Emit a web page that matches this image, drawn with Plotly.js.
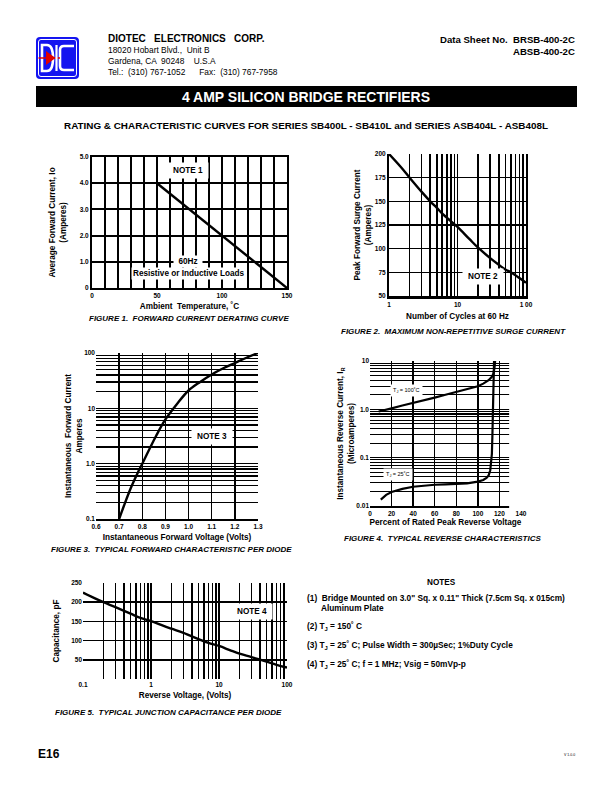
<!DOCTYPE html>
<html><head><meta charset="utf-8">
<script src="https://cdn.plot.ly/plotly-3.0.1.min.js"></script>
<style>html,body{margin:0;padding:0;background:#fff}#chart{width:612px;height:792px}</style>
</head><body><div id="chart"></div>
<script>
// ---------- DATA ----------
// Figure 1: forward current derating
const fig1Temp = [50, 150];
const fig1Current = [4.0, 0.0];
const fig1XTicks = [0, 50, 100, 150];
const fig1XTickText = ['0', '50', '100', '150'];
const fig1YTicks = [0, 1, 2, 3, 4, 5];
const fig1YTickText = ['0', '1.0', '2.0', '3.0', '4.0', '5.0'];

// Figure 2: surge current vs cycles
const fig2Cycles = [1, 1.5, 2, 3, 4, 5, 6, 8, 10, 15, 20, 30, 40, 50, 60, 80, 100];
const fig2Surge  = [200, 186, 175, 160, 150, 143, 137, 129, 123, 110, 101, 90, 83, 78, 75, 69, 64];
const fig2XTicks = [1, 10, 100];
const fig2XTickText = ['1', '10', '1 00'];
const fig2YTicks = [50, 75, 100, 125, 150, 175, 200];

// Figure 3: forward characteristic
const fig3Volts = [0.70, 0.72, 0.75, 0.78, 0.80, 0.83, 0.86, 0.90, 0.95, 1.00, 1.05, 1.10, 1.15, 1.20, 1.25, 1.30];
const fig3Amps  = [0.1, 0.17, 0.36, 0.68, 1.0, 1.8, 3.2, 6.3, 12, 21, 30, 41, 53, 66, 82, 100];
const fig3XTicks = [0.6, 0.7, 0.8, 0.9, 1.0, 1.1, 1.2, 1.3];
const fig3XTickText = ['0.6', '0.7', '0.8', '0.9', '1.0', '1.1', '1.2', '1.3'];
const fig3YTicks = [0.1, 1, 10, 100];
const fig3YTickText = ['0.1', '1.0', '10', '100'];

// Figure 4: reverse characteristics
const fig4Pct100 = [8, 15, 20, 30, 40, 50, 60, 70, 80, 90, 100, 105, 110, 113, 114.5, 115.5, 116];
const fig4Ir100  = [0.9, 0.97, 1.05, 1.2, 1.35, 1.55, 1.75, 2.0, 2.3, 2.6, 3.0, 3.4, 4.0, 4.7, 5.5, 7.5, 10];
const fig4Pct25  = [10, 15, 20, 30, 40, 50, 60, 70, 80, 90, 100, 105, 108, 110, 111.5, 112.5, 113, 113.5, 114, 114.5, 115];
const fig4Ir25   = [0.0136, 0.017, 0.0195, 0.0226, 0.025, 0.0265, 0.0275, 0.028, 0.0285, 0.0295, 0.032, 0.0345, 0.038, 0.043, 0.055, 0.08, 0.12, 0.3, 1, 4, 10];
const fig4XTicks = [0, 20, 40, 60, 80, 100, 120, 140];
const fig4YTicks = [0.01, 0.1, 1, 10];
const fig4YTickText = ['0.01', '0.1', '1.0', '10'];

// Figure 5: junction capacitance
const fig5Volts = [0.1, 0.15, 0.2, 0.3, 0.5, 0.7, 1, 1.5, 2, 3, 5, 7, 10, 15, 20, 30, 50, 70, 100];
const fig5Cap   = [225, 210, 200, 187, 170, 159, 151, 139, 131, 120, 104, 94, 86, 74, 66, 57, 45, 37, 30];
const fig5XTicks = [0.1, 1, 10, 100];
const fig5XTickText = ['0.1', '1', '10', '100'];
const fig5YTicks = [50, 100, 150, 200, 250];

// ---------- LAYOUT HELPERS ----------
const W = 612, H = 792;
const px = x => x / W;
const py = y => 1 - y / H;
const FONT = 'Liberation Sans, Arial, Helvetica, sans-serif';
const K = '#000';

function logMinor(lo, hi) {
  const v = [];
  for (let e = lo; e < hi; e++) for (let d = 2; d <= 9; d++) v.push(+(d * Math.pow(10, e)).toPrecision(3));
  return v;
}
const tickFont = {family: FONT, size: 6.5, color: K, weight: 'bold'};
const TS = 8.2;   // axis-title size
const CS = 8;     // caption size
const titleFont = {family: FONT, size: TS, color: K, weight: 'bold'};

function axis(o) {
  return Object.assign({
    showgrid: true, gridcolor: K, gridwidth: 1.5, zeroline: false,
    ticks: '', tickfont: tickFont, fixedrange: true, showline: false,
    linecolor: K, tickmode: 'array', automargin: false
  }, o);
}
const ttl = (text, standoff) => ({text: text, font: titleFont, standoff: standoff});

const line = w => ({color: K, width: w});

const traces = [
  {x: fig1Temp, y: fig1Current, xaxis: 'x', yaxis: 'y', mode: 'lines', line: line(2.4)},
  {x: fig2Cycles, y: fig2Surge, xaxis: 'x2', yaxis: 'y2', mode: 'lines', line: Object.assign(line(2.4), {shape: 'spline'})},
  {x: fig3Volts, y: fig3Amps, xaxis: 'x3', yaxis: 'y3', mode: 'lines', line: Object.assign(line(2.4), {shape: 'spline'})},
  {x: fig4Pct100, y: fig4Ir100, xaxis: 'x4', yaxis: 'y4', mode: 'lines', line: line(2.2)},
  {x: fig4Pct25, y: fig4Ir25, xaxis: 'x4', yaxis: 'y4', mode: 'lines', line: line(2.2)},
  {x: fig5Volts, y: fig5Cap, xaxis: 'x5', yaxis: 'y5', mode: 'lines', line: Object.assign(line(2.4), {shape: 'spline'})}
];

function ann(text, x, y, o) {
  return Object.assign({
    text: text, x: px(x), y: py(y), xref: 'paper', yref: 'paper',
    showarrow: false, xanchor: 'center', yanchor: 'middle',
    font: {family: FONT, size: TS, color: K, weight: 'bold'}
  }, o || {});
}
const f = (size, extra) => Object.assign({family: FONT, size: size, color: K, weight: 'bold'}, extra || {});

const annotations = [
  // header
  ann('DIOTEC   ELECTRONICS   CORP.', 106, 39, {xanchor: 'left', font: f(10)}),
  ann('18020 Hobart Blvd.,  Unit B', 106, 50, {xanchor: 'left', font: f(8.4, {weight: 'normal'})}),
  ann('Gardena, CA  90248    U.S.A', 106, 61, {xanchor: 'left', font: f(8.4, {weight: 'normal'})}),
  ann('Tel.:  (310) 767-1052      Fax:  (310) 767-7958', 106, 72, {xanchor: 'left', font: f(8.4, {weight: 'normal'})}),
  ann('Data Sheet No.  BRSB-400-2C', 577, 40, {xanchor: 'right', font: f(9.6)}),
  ann('ABSB-400-2C', 577, 52, {xanchor: 'right', font: f(9.6)}),
  ann('RATING &amp; CHARACTERISTIC CURVES FOR SERIES SB400L - SB410L and SERIES ASB404L - ASB408L', 306, 125, {font: f(9.9)}),

  // figure 1
  ann('FIGURE 1.  FORWARD CURRENT DERATING CURVE', 189, 318, {font: f(CS, {style: 'italic'})}),
  ann('NOTE 1', 188, 170, {bgcolor: '#fff', borderpad: 3, width: 34}),
  ann('60Hz', 188, 261, {bgcolor: '#fff', borderpad: 1, width: 26}),
  ann('Resistive or Inductive Loads', 188, 273, {bgcolor: '#fff', borderpad: 1}),

  // figure 2
  ann('FIGURE 2.  MAXIMUM NON-REPETITIVE SURGE CURRENT', 453, 331, {font: f(CS, {style: 'italic'})}),
  ann('NOTE 2', 483, 277, {bgcolor: '#fff', borderpad: 3, width: 34}),

  // figure 3
  ann('FIGURE 3.  TYPICAL FORWARD CHARACTERISTIC PER DIODE', 171, 549, {font: f(CS, {style: 'italic'})}),
  ann('NOTE 3', 212, 436, {bgcolor: '#fff', borderpad: 3, width: 34}),

  // figure 4
  ann('FIGURE 4.  TYPICAL REVERSE CHARACTERISTICS', 442, 538, {font: f(CS, {style: 'italic'})}),
  ann('T<sub>J</sub> = 100˚C', 406, 390, {bgcolor: '#fff', borderpad: 2, font: f(5.5, {weight: 'normal'})}),
  ann('T<sub>J</sub> = 25˚C', 398, 474, {bgcolor: '#fff', borderpad: 2, font: f(5.5, {weight: 'normal'})}),

  // figure 5
  ann('FIGURE 5.  TYPICAL JUNCTION CAPACITANCE PER DIODE', 168, 712, {font: f(CS, {style: 'italic'})}),
  ann('NOTE 4', 252, 611, {bgcolor: '#fff', borderpad: 3, width: 34}),

  // notes
  ann('NOTES', 441, 582, {font: f(8.2)}),
  ann('(1)  Bridge Mounted on 3.0" Sq. x 0.11" Thick (7.5cm Sq. x 015cm)', 305, 598, {xanchor: 'left', font: f(8.3)}),
  ann('Aluminum Plate', 319, 608, {xanchor: 'left', font: f(8.3)}),
  ann('(2) T<sub>J</sub> = 150˚ C', 305, 626, {xanchor: 'left', font: f(8.3)}),
  ann('(3) T<sub>J</sub> = 25˚ C; Pulse Width = 300µSec; 1%Duty Cycle', 305, 645, {xanchor: 'left', font: f(8.3)}),
  ann('(4) T<sub>J</sub> = 25˚ C; f = 1 MHz; Vsig = 50mVp-p', 305, 664, {xanchor: 'left', font: f(8.3)}),

  // footer
  ann('E16', 36, 754, {xanchor: 'left', font: f(12)}),
  ann('V 1.0.0', 562, 755, {xanchor: 'left', font: f(3.5, {weight: 'normal'})})
];

// path helper in pixel coords
const P = (x, y) => px(x).toFixed(5) + ',' + py(y).toFixed(5);
const shapes = [
  // banner
  {type: 'rect', xref: 'paper', yref: 'paper', x0: px(36), x1: px(577), y0: py(107), y1: py(86), fillcolor: '#000', line: {width: 0}, layer: 'below'},
  // logo
  {type: 'path', xref: 'paper', yref: 'paper', fillcolor: '#1414f0', line: {width: 0},
   path: 'M' + P(40, 37) + 'L' + P(75, 37) + 'Q' + P(79, 37) + ' ' + P(79, 41) + 'L' + P(79, 75) + 'Q' + P(79, 79) + ' ' + P(75, 79) +
         'L' + P(40, 79) + 'Q' + P(36, 79) + ' ' + P(36, 75) + 'L' + P(36, 41) + 'Q' + P(36, 37) + ' ' + P(40, 37) + 'Z'},
  {type: 'path', xref: 'paper', yref: 'paper', line: {color: '#fff', width: 1},
   path: 'M' + P(41, 39.5) + 'L' + P(74, 39.5) + 'Q' + P(76.5, 39.5) + ' ' + P(76.5, 42) + 'L' + P(76.5, 74) + 'Q' + P(76.5, 76.5) + ' ' + P(74, 76.5) +
         'L' + P(41, 76.5) + 'Q' + P(38.5, 76.5) + ' ' + P(38.5, 74) + 'L' + P(38.5, 42) + 'Q' + P(38.5, 39.5) + ' ' + P(41, 39.5) + 'Z'},
  {type: 'path', xref: 'paper', yref: 'paper', line: {color: '#fff', width: 2.6},
   path: 'M' + P(42, 45) + 'L' + P(47, 45) + 'Q' + P(53, 45) + ' ' + P(53, 58) + 'Q' + P(53, 71) + ' ' + P(47, 71) + 'L' + P(42, 71) + 'Z'},
  {type: 'path', xref: 'paper', yref: 'paper', line: {color: '#fff', width: 2.6},
   path: 'M' + P(74, 46) + 'L' + P(64, 46) + 'Q' + P(60, 46) + ' ' + P(60, 50) + 'L' + P(60, 66) + 'Q' + P(60, 70) + ' ' + P(64, 70) + 'L' + P(74, 70)},
  {type: 'path', xref: 'paper', yref: 'paper', line: {color: '#e00000', width: 1.5},
   path: 'M' + P(38.5, 58) + 'L' + P(60, 58)},
  {type: 'path', xref: 'paper', yref: 'paper', fillcolor: '#e00000', line: {width: 0},
   path: 'M' + P(46, 51) + 'L' + P(46, 65) + 'L' + P(55.5, 58) + 'Z'},
  {type: 'path', xref: 'paper', yref: 'paper', line: {color: '#fff', width: 2.2},
   path: 'M' + P(56.5, 45) + 'L' + P(56.5, 71)},
  // fig4 gridlines stop short of the 140% tick
  {type: 'rect', xref: 'x4', yref: 'y4 domain', x0: 129, x1: 142, y0: -0.02, y1: 1.02, fillcolor: '#fff', line: {width: 0}, layer: 'above'}
];

const layout = {
  width: W, height: H, margin: {l: 0, r: 0, t: 0, b: 0},
  paper_bgcolor: '#fff', plot_bgcolor: 'rgba(0,0,0,0)', showlegend: false,
  font: {family: FONT, color: K},
  title: {text: '4 AMP SILICON BRIDGE RECTIFIERS', font: f(14, {color: '#fff'}),
          x: px(306), xanchor: 'center', xref: 'paper', y: py(97), yanchor: 'middle', yref: 'paper', automargin: false},
  // fig 1
  xaxis: axis({domain: [px(92), px(287)], anchor: 'y', range: [0, 150], tickvals: fig1XTicks, ticktext: fig1XTickText,
    gridwidth: 2, minor: {dtick: 10, tick0: 0, showgrid: true, gridcolor: K, gridwidth: 2},
    showline: true, mirror: true, linewidth: 2, title: ttl('Ambient  Temperature, ˚C', 5)}),
  yaxis: axis({domain: [py(288), py(157)], anchor: 'x', range: [0, 5], tickvals: fig1YTicks, ticktext: fig1YTickText,
    gridwidth: 2, showline: true, mirror: true, linewidth: 2, title: ttl('Average Forward Current, Io<br>(Amperes)', 12)}),
  // fig 2
  xaxis2: axis({domain: [px(389), px(526)], anchor: 'y2', type: 'log', range: [0, 2], tickvals: fig2XTicks, ticktext: fig2XTickText,
    gridwidth: 1.6, minor: {tickmode: 'array', tickvals: logMinor(0, 2), showgrid: true, gridcolor: K, gridwidth: 1.6},
    showline: true, linewidth: 3, title: ttl('Number of Cycles at 60 Hz', 7)}),
  yaxis2: axis({domain: [py(296), py(154)], anchor: 'x2', range: [50, 200], tickvals: fig2YTicks,
    gridwidth: 1.6, showline: true, mirror: true, linewidth: 2, title: ttl('Peak Forward Surge Current<br>(Amperes)', 2)}),
  // fig 3
  xaxis3: axis({domain: [px(96), px(258)], anchor: 'y3', range: [0.6, 1.3], tickvals: fig3XTicks, ticktext: fig3XTickText,
    gridwidth: 1.5, showline: true, linewidth: 2, title: ttl('Instantaneous Forward Voltage (Volts)', 5)}),
  yaxis3: axis({domain: [py(519), py(353)], anchor: 'x3', type: 'log', range: [-1, 2], tickvals: fig3YTicks, ticktext: fig3YTickText,
    gridwidth: 1.5, minor: {tickmode: 'array', tickvals: logMinor(-1, 2), showgrid: true, gridcolor: K, gridwidth: 1.2},
    title: ttl('Instantaneous  Forward Current<br>Amperes', 0)}),
  // fig 4
  xaxis4: axis({domain: [px(370), px(521)], anchor: 'y4', range: [0, 140], tickvals: fig4XTicks,
    gridwidth: 1.3, showline: true, linewidth: 2, title: ttl('Percent of Rated Peak Reverse Voltage', 3)}),
  yaxis4: axis({domain: [py(506), py(361)], anchor: 'x4', type: 'log', range: [-2, 1], tickvals: fig4YTicks, ticktext: fig4YTickText,
    gridwidth: 1.5, minor: {tickmode: 'array', tickvals: logMinor(-2, 1), showgrid: true, gridcolor: K, gridwidth: 1.1},
    title: ttl('Instantaneous Reverse Current, I<sub>R</sub><br>(Microamperes)', 0)}),
  // fig 5
  xaxis5: axis({domain: [px(83), px(287)], anchor: 'y5', type: 'log', range: [-1, 2], tickvals: fig5XTicks, ticktext: fig5XTickText,
    gridwidth: 1.5, minor: {tickmode: 'array', tickvals: logMinor(-1, 2), showgrid: true, gridcolor: K, gridwidth: 1.5},
    title: ttl('Reverse Voltage, (Volts)', 5)}),
  yaxis5: axis({domain: [py(679), py(583)], anchor: 'x5', range: [0, 250], tickvals: fig5YTicks,
    gridwidth: 1.5, title: ttl('Capacitance, pF', 10)}),
  annotations: annotations,
  shapes: shapes
};

Plotly.newPlot('chart', traces, layout, {staticPlot: true, displayModeBar: false});
</script>
</body></html>
